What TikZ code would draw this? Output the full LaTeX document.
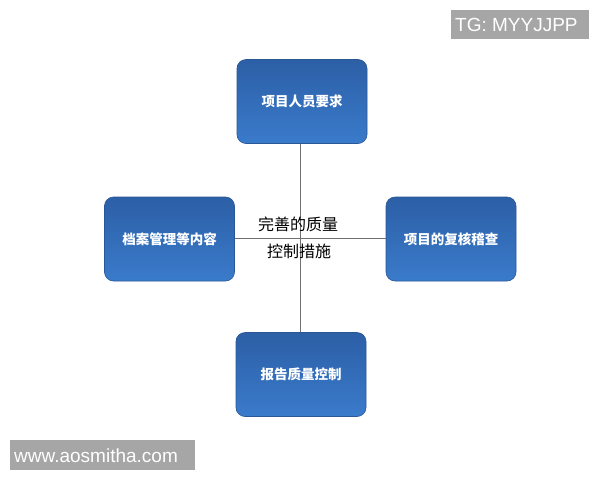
\documentclass[tikz,border=0pt]{standalone}
\usepackage{fontspec}
\newfontfamily\cjk{Noto Sans CJK SC}
\setmainfont{Liberation Sans}
\begin{document}
\begin{tikzpicture}[x=1pt,y=-1pt,
  box/.style={rounded corners=9pt, top color=boxtop, bottom color=boxbot, draw=boxedge, line width=0.6pt,
    minimum width=130pt, minimum height=84pt, inner sep=0pt, text=white, font=\cjk\fontsize{13.5}{15}\selectfont\bfseries},
  conn/.style={draw=linegray, line width=0.8pt},
  ctext/.style={font=\cjk\fontsize{16}{18}\selectfont, text=black, inner sep=0pt},
  wmbox/.style={fill=wmgray, draw=none},
  wm/.style={text=white, inner sep=0pt, anchor=west, font=\fontsize{19}{21}\selectfont}]
\definecolor{boxtop}{HTML}{2C5FA6}
\definecolor{boxbot}{HTML}{3A7BCB}
\definecolor{boxedge}{HTML}{2A5796}
\definecolor{linegray}{HTML}{707070}
\definecolor{wmgray}{HTML}{A6A6A6}
\useasboundingbox (0,0) rectangle (600,480);
\fill[white] (0,0) rectangle (600,480);
\coordinate (c) at (300,238);
\node[box] (top) at (302,101.5) {项目人员要求};
\node[box] (left) at (169.5,239) {档案管理等内容};
\node[box] (right) at (451,239) {项目的复核稽查};
\node[box] (bot) at (301,374.5) {报告质量控制};
\draw[conn] (top.south -| c) -- (bot.north -| c);
\draw[conn] (left.east |- c) -- (right.west |- c);
\node[ctext] (t1) at (298,224) {完善的质量};
\node[ctext] (t2) at (299,251) {控制措施};
\fill[wmbox] (451,10) rectangle (589,39);
\node[wm] (wm1) at (455,25) {TG: MYYJJPP};
\fill[wmbox] (10,440) rectangle (195,470);
\node[wm] (wm2) at (14,456) {www.aosmitha.com};
\end{tikzpicture}
\end{document}
